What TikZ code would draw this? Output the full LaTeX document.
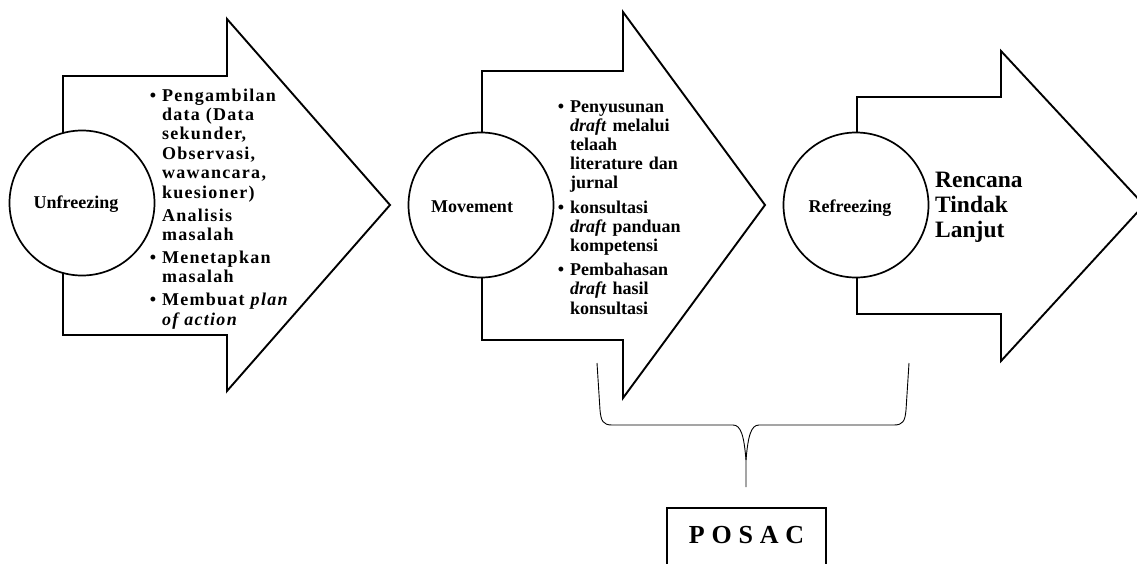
\documentclass[tikz,border=0pt]{standalone}
\usepackage{fontspec}
\setmainfont{Liberation Serif}
\newfontfamily\widefont[LetterSpace=7]{Liberation Serif}
\newfontfamily\posacfont[LetterSpace=26]{Liberation Serif}
\usetikzlibrary{positioning}
\newcommand{\blt}{\noindent\llap{\textbullet\hspace{6pt}}}

\begin{document}
\begin{tikzpicture}[x=1pt,y=-1pt]
\tikzstyle{phase}=[draw=black,circle,fill=white,line width=1.7pt,inner sep=0pt,minimum size=145pt]
\tikzstyle{phaselabel}=[inner sep=0pt,font=\fontsize{18}{20}\selectfont\bfseries]
\tikzstyle{bigarrow}=[draw=black,line width=1.9pt,miter limit=20,fill=white]
\tikzstyle{steps}=[anchor=base west,inner sep=0pt,align=left]
\tikzstyle{brace}=[draw=black,line width=0.9pt]
\useasboundingbox (0,0) rectangle (1137,563);
\draw [bigarrow] (63,76) -- (227,76) -- (227,19) -- (390,205) -- (227,391) -- (227,335) -- (63,335) -- cycle;
\draw [bigarrow] (482,71) -- (623,71) -- (623,12) -- (765,205) -- (623,398) -- (623,340) -- (482,340) -- cycle;
\draw [bigarrow] (857,97) -- (1001,97) -- (1001,51) -- (1144,205) -- (1001,361) -- (1001,314) -- (857,314) -- cycle;
\node [phase] at (82,203) (unfreeze) {};
\node [phase] at (481,205) (move) {};
\node [phase] at (856,205) (refreeze) {};
\node [phaselabel,anchor=base] at ([xshift=-6pt,yshift=-5pt]unfreeze.center) (unfreezetext) {Unfreezing};
\node [phaselabel,anchor=base] at ([xshift=-9pt,yshift=-7pt]move.center) (movetext) {Movement};
\node [phaselabel,anchor=base] at ([xshift=-6pt,yshift=-7pt]refreeze.center) (refreezetext) {Refreezing};
\node [steps,text width=170pt,font=\fontsize{18}{19.4}\selectfont\widefont\bfseries] at (148,101) (unfreezelist) {%
\leftskip=14pt\parskip=3.6pt
\blt Pengambilan\\data (Data\\sekunder,\\Observasi,\\wawancara,\\kuesioner)\par
Analisis\\masalah\par
\blt Menetapkan\\masalah\par
\blt Membuat \textit{plan}\\\textit{of action}\par};
\node [steps,text width=160pt,font=\fontsize{18}{19.2}\selectfont\bfseries] at (557,112) (movelist) {%
\leftskip=13pt\parskip=5pt
\blt Penyusunan\\\textit{draft} melalui\\telaah\\literature dan\\jurnal\par
\blt konsultasi\\\textit{draft} panduan\\kompetensi\par
\blt Pembahasan\\\textit{draft} hasil\\konsultasi\par};
\node [steps,text width=120pt,font=\fontsize{23.5}{25}\selectfont\bfseries] at (935,187) (refreezelist) {Rencana\\Tindak\\Lanjut};
\node [draw=black,line width=1.7pt,anchor=north,minimum width=159pt,minimum height=90pt,text depth=55pt,inner ysep=18pt,font=\fontsize{26}{28}\selectfont\posacfont\bfseries] at (746.5,507) (posac) {POSAC};
\draw [brace] (597,363) -- (600,410) .. controls (601,421) and (603,425) .. (612,425) -- (733,425) .. controls (741,425) and (744,436) .. (746,460) -- (746,487);
\draw [brace] (909,363) -- (906,410) .. controls (905,421) and (903,425) .. (894,425) -- (759,425) .. controls (751,425) and (748,436) .. (746,460);
\end{tikzpicture}
\end{document}
